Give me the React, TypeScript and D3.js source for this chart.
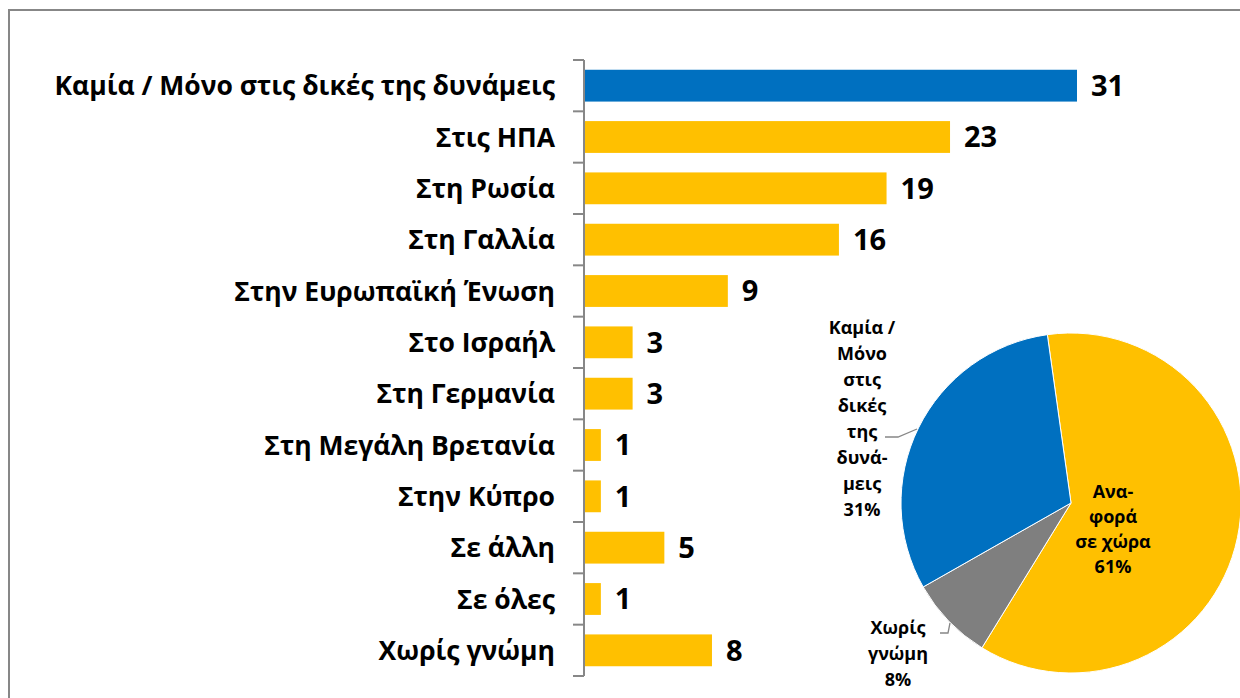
import React, { useEffect, useRef } from 'react';
import * as d3 from 'd3';

// bar chart data
const categories = [
  'Καμία / Μόνο στις δικές της δυνάμεις',
  'Στις ΗΠΑ',
  'Στη Ρωσία',
  'Στη Γαλλία',
  'Στην Ευρωπαϊκή Ένωση',
  'Στο Ισραήλ',
  'Στη Γερμανία',
  'Στη Μεγάλη Βρετανία',
  'Στην Κύπρο',
  'Σε άλλη',
  'Σε όλες',
  'Χωρίς γνώμη',
];
const values = [31, 23, 19, 16, 9, 3, 3, 1, 1, 5, 1, 8];

// pie chart data (clockwise from the top)
const pieNames = ['Αναφορά σε χώρα', 'Χωρίς γνώμη', 'Καμία / Μόνο στις δικές της δυνάμεις'];
const pieValues = [61, 8, 31];
const pieColors = ['#FFC000', '#7F7F7F', '#0070C0'];
const pieLabelLines = [
  ['Ανα-', 'φορά', 'σε χώρα', '61%'],
  ['Χωρίς', 'γνώμη', '8%'],
  ['Καμία /', 'Μόνο', 'στις', 'δικές', 'της', 'δυνά-', 'μεις', '31%'],
];

const W = 1240;
const H = 698;
const FONT = "'Open Sans', 'DejaVu Sans', sans-serif";

const App = () => {
  const svgRef = useRef<SVGSVGElement>(null);

  useEffect(() => {
    const svg = d3.select(svgRef.current);
    svg.selectAll('*').remove();

    svg.append('rect').attr('width', W).attr('height', H).attr('fill', '#fff');

    // outer border of the chart area
    svg
      .append('rect')
      .attr('x', 9)
      .attr('y', 10)
      .attr('width', W + 20)
      .attr('height', H + 20)
      .attr('fill', 'none')
      .attr('stroke', '#878787')
      .attr('stroke-width', 2);

    const axisX = 584;
    const y = d3
      .scaleBand()
      .domain(categories)
      .range([60, 676])
      .paddingInner(0.38)
      .paddingOuter(0.19);
    const x = d3.scaleLinear().domain([0, 31]).range([axisX + 1, 1077]);

    // bars
    svg
      .selectAll('.bar')
      .data(values)
      .enter()
      .append('rect')
      .attr('class', 'bar')
      .attr('x', x(0))
      .attr('y', (d, i) => y(categories[i]))
      .attr('width', (d) => x(d) - x(0))
      .attr('height', y.bandwidth())
      .attr('fill', (d, i) => (i === 0 ? '#0070C0' : '#FFC000'));

    // value labels
    svg
      .selectAll('.val')
      .data(values)
      .enter()
      .append('text')
      .attr('class', 'val')
      .attr('x', (d) => x(d) + 14)
      .attr('y', (d, i) => y(categories[i]) + y.bandwidth() / 2)
      .attr('dy', '0.36em')
      .attr('font-family', FONT)
      .attr('font-weight', 'bold')
      .attr('font-size', 29)
      .attr('fill', '#000')
      .text((d) => d);

    // category axis with ticks on band boundaries
    const [r0, r1] = y.range();
    const g = svg.append('g').attr('stroke', '#878787').attr('stroke-width', 2);
    g.append('line').attr('x1', axisX).attr('x2', axisX).attr('y1', r0).attr('y2', r1);
    d3.range(categories.length + 1).forEach((i) => {
      const ty = r0 + i * y.step();
      g.append('line').attr('x1', axisX - 11).attr('x2', axisX).attr('y1', ty).attr('y2', ty);
    });

    svg
      .selectAll('.cat')
      .data(categories)
      .enter()
      .append('text')
      .attr('class', 'cat')
      .attr('x', axisX - 29)
      .attr('y', (d) => y(d) + y.bandwidth() / 2)
      .attr('dy', '0.36em')
      .attr('text-anchor', 'end')
      .attr('font-family', FONT)
      .attr('font-weight', 'bold')
      .attr('font-size', 26.5)
      .attr('fill', '#000')
      .text((d) => d);

    // pie
    const cx = 1071;
    const cy = 503;
    const radius = 170;
    const start = (-8 * Math.PI) / 180;
    const pie = d3
      .pie<number>()
      .sort(null)
      .startAngle(start)
      .endAngle(start + 2 * Math.PI);
    const arcs = pie(pieValues);
    const arc = d3.arc<d3.PieArcDatum<number>>().innerRadius(0).outerRadius(radius);

    const pg = svg.append('g').attr('transform', `translate(${cx},${cy})`);
    pg.selectAll('path')
      .data(arcs)
      .enter()
      .append('path')
      .attr('d', arc)
      .attr('fill', (d, i) => pieColors[i])
      .attr('stroke', '#fff')
      .attr('stroke-width', 1);

    // leader lines for outside labels
    const leaders = [
      [[-186, -66], [-173, -66], [-154, -74]],
      [[-131, 130], [-123, 130], [-121, 120]],
    ];
    leaders.forEach((pts) => {
      pg.append('path')
        .attr('d', d3.line()(pts as [number, number][]))
        .attr('fill', 'none')
        .attr('stroke', '#878787')
        .attr('stroke-width', 1.3);
    });

    // pie labels: centre x and first line y, relative to pie centre
    const labelPos = [
      [42, -11],
      [-173, 125],
      [-209, -175],
    ];
    const lineH = [25, 26, 26];
    arcs.forEach((a, i) => {
      const t = pg
        .append('text')
        .attr('text-anchor', 'middle')
        .attr('font-family', FONT)
        .attr('font-weight', 'bold')
        .attr('font-size', 18)
        .attr('fill', '#000');
      pieLabelLines[i].forEach((line, j) => {
        t.append('tspan')
          .attr('x', labelPos[i][0])
          .attr('y', labelPos[i][1] + j * lineH[i])
          .attr('dy', '0.36em')
          .text(line);
      });
    });
  }, []);

  return (
    <svg
      ref={svgRef}
      width={W}
      height={H}
      style={{ position: 'absolute', left: 0, top: 0, display: 'block' }}
    />
  );
};

export default App;
